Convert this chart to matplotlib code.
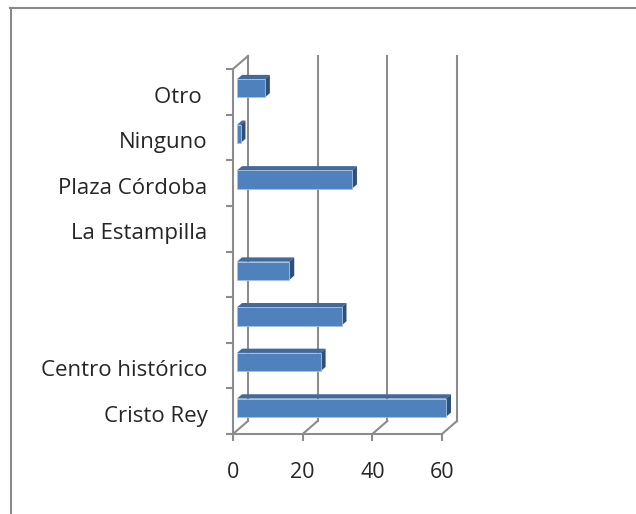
import numpy as np
import matplotlib
matplotlib.use("Agg")
import matplotlib.pyplot as plt
from matplotlib.patches import Polygon
from matplotlib.lines import Line2D
from matplotlib.transforms import ScaledTranslation

# categories from bottom to top
categories = ["Cristo Rey", "Centro histórico", "", "", "La Estampilla",
              "Plaza Córdoba", "Ninguno", "Otro "]
values = [60, 24, 30, 15, 0, 33, 1, 8]
xticks = [0, 20, 40, 60]

plt.rcParams['font.family'] = ['Open Sans', 'DejaVu Sans']

front = "#4F81BD"
top_c = "#41699C"
side_c = "#2D4F7C"
grid_c = "#8C8C8C"

fig = plt.figure(figsize=(6.36, 5.14), dpi=100)
ax = fig.add_axes([233 / 636, 80 / 514, 209 / 636, 365 / 514])
ax.set_xlim(0, 60)
ax.set_ylim(-0.5, len(categories) - 0.5)

# depth of the 3d box in data units
dx, dy = 4.3, 0.285
t0, t1 = 0.27, 0.6
h = 0.4
ymin, ymax = -0.5, len(categories) - 0.5

# back wall gridlines + floor diagonals
for v in xticks:
    ax.plot([v + dx, v + dx], [ymin + dy, ymax + dy], color=grid_c, lw=1.5,
            clip_on=False, zorder=1)
    ax.plot([v, v + dx], [ymin, ymin + dy], color=grid_c, lw=1.5,
            clip_on=False, zorder=1)
ax.plot([0, dx], [ymax, ymax + dy], color=grid_c, lw=1.5, clip_on=False, zorder=1)

# bars
for i, v in enumerate(values):
    x0f, x1f = t0 * dx, v + t0 * dx
    x0b, x1b = t1 * dx, v + t1 * dx
    yb_f, yt_f = i - h / 2 + t0 * dy, i + h / 2 + t0 * dy
    yb_b, yt_b = i - h / 2 + t1 * dy, i + h / 2 + t1 * dy
    if v == 0:
        continue
    ax.add_patch(Polygon([(x0f, yt_f), (x1f, yt_f), (x1b, yt_b), (x0b, yt_b)],
                         closed=True, fc=top_c, ec="none", zorder=3, clip_on=False))
    ax.add_patch(Polygon([(x1f, yb_f), (x1f, yt_f), (x1b, yt_b), (x1b, yb_b)],
                         closed=True, fc=side_c, ec="none", zorder=3, clip_on=False))
    ax.barh(i + t0 * dy, v, height=h, left=t0 * dx, color=front,
            edgecolor="#A9C1DF", linewidth=0.6, zorder=4, clip_on=False)

for s in ["top", "right"]:
    ax.spines[s].set_visible(False)
for s in ["left", "bottom"]:
    ax.spines[s].set_color(grid_c)
    ax.spines[s].set_linewidth(1.5)

ax.set_xticks(xticks)
ax.set_xticklabels([str(t) for t in xticks], fontsize=15.5, color="#262626")
ax.tick_params(axis="x", length=5, width=1.5, color=grid_c, pad=15)

ax.set_yticks(np.arange(len(categories) + 1) - 0.5)
ax.set_yticklabels([])
ax.tick_params(axis="y", which="major", length=5, width=1.5, color=grid_c)
ax.set_yticks(np.arange(len(categories)), minor=True)
ax.set_yticklabels(categories, minor=True, fontsize=16, color="#262626")
ax.tick_params(axis="y", which="minor", length=0, pad=18.5)
for lab in ax.get_yticklabels(minor=True):
    lab.set_transform(lab.get_transform() +
                      ScaledTranslation(0, -2 / 72, fig.dpi_scale_trans))

ax.patch.set_visible(False)

# outer frame (top and left only)
fig.add_artist(Line2D([10 / 636, 1], [1 - 8 / 514, 1 - 8 / 514],
                      color="#8A8A8A", lw=1.5, transform=fig.transFigure))
fig.add_artist(Line2D([11 / 636, 11 / 636], [0, 1 - 8 / 514],
                      color="#8A8A8A", lw=1.5, transform=fig.transFigure))

fig.savefig("out.png", dpi=100)
